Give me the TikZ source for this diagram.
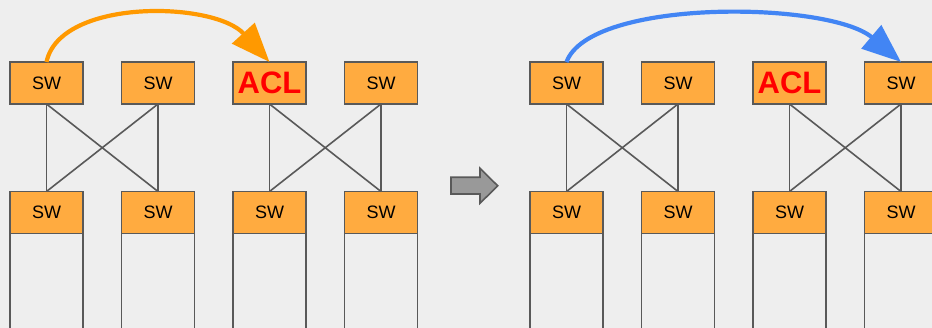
\documentclass[tikz,border=0pt]{standalone}
\usepackage{fontspec}
\setmainfont{Liberation Sans}
\usetikzlibrary{arrows.meta}
\definecolor{bg}{HTML}{EEEEEE}
\definecolor{swfill}{HTML}{FFAB40}
\definecolor{edge}{HTML}{595959}
\definecolor{hopor}{HTML}{FF9900}
\definecolor{hopbl}{HTML}{4285F4}
\definecolor{grayarr}{HTML}{999999}
\tikzset{
  swbox/.style={draw=edge, line width=1.6pt, fill=swfill, minimum width=73pt,
    minimum height=42pt, inner sep=0pt, outer sep=0pt,
    font=\fontsize{18}{20}\selectfont},
  aclbox/.style={swbox, text=red, font=\fontsize{31}{34}\selectfont\bfseries},
  rack/.style={draw=edge, line width=1.6pt, fill=bg, minimum width=73pt,
    minimum height=110pt, inner sep=0pt, outer sep=0pt, anchor=north},
  link/.style={draw=edge, line width=1.6pt},
  hop/.style={line width=4.2pt, -{Triangle[length=39pt,width=30pt]}},
}
\begin{document}
\begin{tikzpicture}[x=1pt,y=-1pt]
  \useasboundingbox (0,0) rectangle (932,328);
  \fill[bg] (0,0) rectangle (932,328);
  \clip (0,0) rectangle (932,328);

  % racks below the bottom switches
  \foreach \i/\x in {1/46.5,2/158,3/269.5,4/381,5/566.5,6/678,7/789.5,8/901}
    \node[rack] (r\i) at (\x,233) {};

  % left fabric
  \node[swbox]  (t1) at (46.5,83) {SW};
  \node[swbox]  (t2) at (158,83) {SW};
  \node[aclbox] (t3) at (269.5,83) {ACL};
  \node[swbox]  (t4) at (381,83) {SW};
  \node[swbox]  (b1) at (46.5,212.5) {SW};
  \node[swbox]  (b2) at (158,212.5) {SW};
  \node[swbox]  (b3) at (269.5,212.5) {SW};
  \node[swbox]  (b4) at (381,212.5) {SW};

  % right fabric
  \node[swbox]  (u1) at (566.5,83) {SW};
  \node[swbox]  (u2) at (678,83) {SW};
  \node[aclbox] (u3) at (789.5,83) {ACL};
  \node[swbox]  (u4) at (901,83) {SW};
  \node[swbox]  (c1) at (566.5,212.5) {SW};
  \node[swbox]  (c2) at (678,212.5) {SW};
  \node[swbox]  (c3) at (789.5,212.5) {SW};
  \node[swbox]  (c4) at (901,212.5) {SW};

  % full mesh between each pair of tiers
  \foreach \a/\b in {t1/b1,t1/b2,t2/b1,t2/b2,t3/b3,t3/b4,t4/b3,t4/b4,
                     u1/c1,u1/c2,u2/c1,u2/c2,u3/c3,u3/c4,u4/c3,u4/c4}
    \draw[link] (\a.south) -- (\b.north);

  % traffic paths
  \draw[hop, draw=hopor]
    (t1.north) .. controls +(13.5,-64) and +(-55.5,-61) .. (t3.north);
  \draw[hop, draw=hopbl]
    (u1.north) .. controls +(23.5,-64) and +(-72,-61) .. (u4.north);

  % transition arrow
  \draw[draw=edge, line width=1.6pt, fill=grayarr, line join=miter]
    (451,177.3) -- (480,177.3) -- (480,168.3) -- (497.7,185.8)
    -- (480,203.3) -- (480,194) -- (451,194) -- cycle;
\end{tikzpicture}
\end{document}
